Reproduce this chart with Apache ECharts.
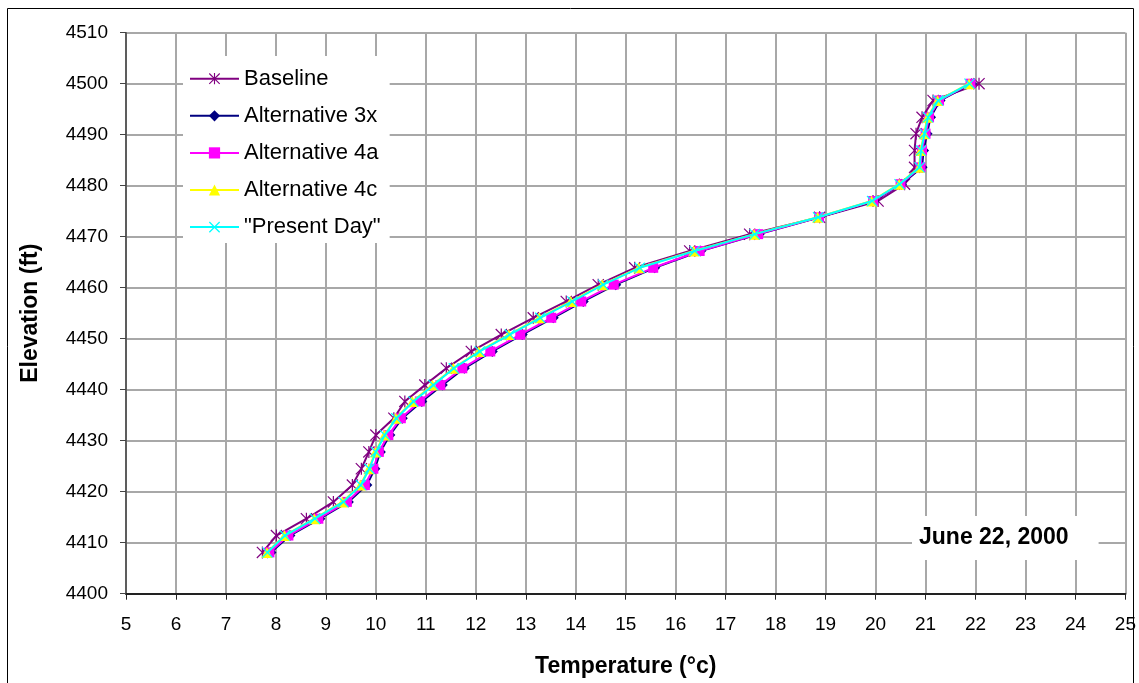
<!DOCTYPE html>
<html><head><meta charset="utf-8">
<script src="https://cdn.jsdelivr.net/npm/echarts@6/dist/echarts.min.js"></script>
<style>html,body{margin:0;padding:0;background:#fff}#c{width:1139px;height:683px}</style>
</head><body><div id="c"></div>
<script>
// Elevation (ft) of each profile point, bottom to top
const elevation = [4408.1, 4411.4, 4414.7, 4418.0, 4421.3, 4424.5, 4427.8, 4431.1, 4434.4, 4437.7,
  4440.9, 4444.2, 4447.5, 4450.8, 4454.1, 4457.3, 4460.6, 4463.9, 4467.2, 4470.5,
  4473.8, 4477.0, 4480.3, 4483.6, 4486.9, 4490.2, 4493.4, 4496.7, 4500.0];
// Temperature (°C) at each elevation
const baseline = [7.73, 8.01, 8.61, 9.15, 9.53, 9.71, 9.86, 10.00, 10.36, 10.58,
  10.98, 11.41, 11.91, 12.51, 13.15, 13.81, 14.45, 15.18, 16.28, 17.48,
  18.88, 20.05, 20.58, 20.78, 20.78, 20.81, 20.93, 21.15, 22.07];
const alt3x = [7.90, 8.28, 8.88, 9.45, 9.82, 9.98, 10.09, 10.28, 10.53, 10.92,
  11.33, 11.77, 12.33, 12.93, 13.55, 14.15, 14.80, 15.58, 16.50, 17.67,
  18.88, 19.96, 20.52, 20.93, 20.96, 21.03, 21.10, 21.29, 21.92];
const alt4a = [7.87, 8.25, 8.85, 9.42, 9.78, 9.95, 10.06, 10.25, 10.50, 10.88,
  11.29, 11.73, 12.29, 12.89, 13.51, 14.11, 14.76, 15.55, 16.48, 17.65,
  18.87, 19.95, 20.50, 20.90, 20.93, 21.00, 21.07, 21.27, 21.90];
const alt4c = [7.82, 8.17, 8.77, 9.33, 9.69, 9.86, 9.99, 10.17, 10.40, 10.73,
  11.13, 11.55, 12.06, 12.66, 13.27, 13.90, 14.53, 15.26, 16.36, 17.57,
  18.84, 19.92, 20.47, 20.87, 20.90, 20.97, 21.04, 21.24, 21.87];
const presentDay = [7.83, 8.18, 8.78, 9.35, 9.70, 9.87, 10.00, 10.18, 10.41, 10.75,
  11.15, 11.56, 12.08, 12.68, 13.29, 13.93, 14.55, 15.28, 16.38, 17.58,
  18.85, 19.93, 20.48, 20.88, 20.91, 20.98, 21.05, 21.25, 21.88];

const seriesNames = ['Baseline', 'Alternative 3x', 'Alternative 4a', 'Alternative 4c', '"Present Day"'];
const seriesValues = [baseline, alt3x, alt4a, alt4c, presentDay];
const xRange = [5, 25, 1];
const yRange = [4400, 4510, 10];
const chartTitle = 'June 22, 2000';
const xTitle = 'Temperature (°c)';
const yTitle = 'Elevation (ft)';

const ASTERISK = 'path://M9,0L11,0L11,20L9,20Z M0,1.4L1.4,0L20,18.6L18.6,20Z M18.6,0L20,1.4L1.4,20L0,18.6Z';
const XMARK = 'path://M0,1.6L1.6,0L20,18.4L18.4,20Z M18.4,0L20,1.6L1.6,20L0,18.4Z';
const styles = [
  {color: '#800080', symbol: ASTERISK, size: 12},
  {color: '#000080', symbol: 'diamond', size: 11},
  {color: '#ff00ff', symbol: 'rect', size: 10},
  {color: '#ffff00', symbol: 'triangle', size: 11},
  {color: '#00ffff', symbol: XMARK, size: 11}
];

const chart = echarts.init(document.getElementById('c'), null, {renderer: 'canvas'});
const FONT = 'Liberation Sans, Arial, sans-serif';

const series = seriesNames.map((name, i) => ({
  name: name,
  type: 'line',
  data: seriesValues[i].map((t, k) => [t, elevation[k]]),
  symbol: styles[i].symbol,
  symbolSize: styles[i].size,
  showAllSymbol: true,
  lineStyle: {color: styles[i].color, width: 2},
  itemStyle: {color: styles[i].color, borderWidth: 0},
  emphasis: {disabled: true},
  animation: false,
  z: 2 + i
}));

chart.setOption({
  animation: false,
  backgroundColor: '#ffffff',
  textStyle: {fontFamily: FONT},
  grid: {left: 126, right: 13, top: 32.7, bottom: 89.3, containLabel: false},
  title: {
    text: chartTitle,
    left: 912, top: 516,
    backgroundColor: '#ffffff',
    padding: [9, 30, 9, 7],
    textStyle: {fontFamily: FONT, fontSize: 23, fontWeight: 'bold', color: '#000', lineHeight: 26}
  },
  legend: {
    data: seriesNames,
    orient: 'vertical',
    left: 183, top: 56,
    backgroundColor: '#ffffff',
    padding: [11.7, 9, 4.9, 6],
    itemWidth: 49, itemHeight: 14, itemGap: 15.1,
    textStyle: {fontFamily: FONT, fontSize: 22, color: '#000', lineHeight: 22},
    selectedMode: false
  },
  xAxis: {
    type: 'value', min: xRange[0], max: xRange[1], interval: xRange[2],
    name: xTitle, nameLocation: 'middle', nameGap: 61,
    nameTextStyle: {fontFamily: FONT, fontSize: 23, fontWeight: 'bold', color: '#000'},
    axisLine: {show: true, onZero: false, lineStyle: {color: '#222', width: 2}},
    axisTick: {show: true, inside: false, length: 6, lineStyle: {color: '#222', width: 1}},
    axisLabel: {margin: 22, fontFamily: FONT, fontSize: 19, color: '#000', formatter: v => String(v)},
    splitLine: {show: true, lineStyle: {color: '#a8a8a8', width: 2}}
  },
  yAxis: {
    type: 'value', min: yRange[0], max: yRange[1], interval: yRange[2],
    name: yTitle, nameLocation: 'middle', nameGap: 84,
    nameTextStyle: {fontFamily: FONT, fontSize: 23, fontWeight: 'bold', color: '#000'},
    axisLine: {show: true, onZero: false, lineStyle: {color: '#444', width: 1.5}},
    axisTick: {show: true, inside: false, length: 6, lineStyle: {color: '#444', width: 1}},
    axisLabel: {margin: 18, fontFamily: FONT, fontSize: 19, color: '#000', formatter: v => String(v)},
    splitLine: {show: true, lineStyle: {color: '#a8a8a8', width: 2}}
  },
  graphic: [{
    type: 'rect', silent: true, z: 100,
    shape: {x: 7.5, y: 8.5, width: 1126, height: 700},
    style: {fill: null, stroke: '#000', lineWidth: 1}
  }],
  series: series
});
</script></body></html>
